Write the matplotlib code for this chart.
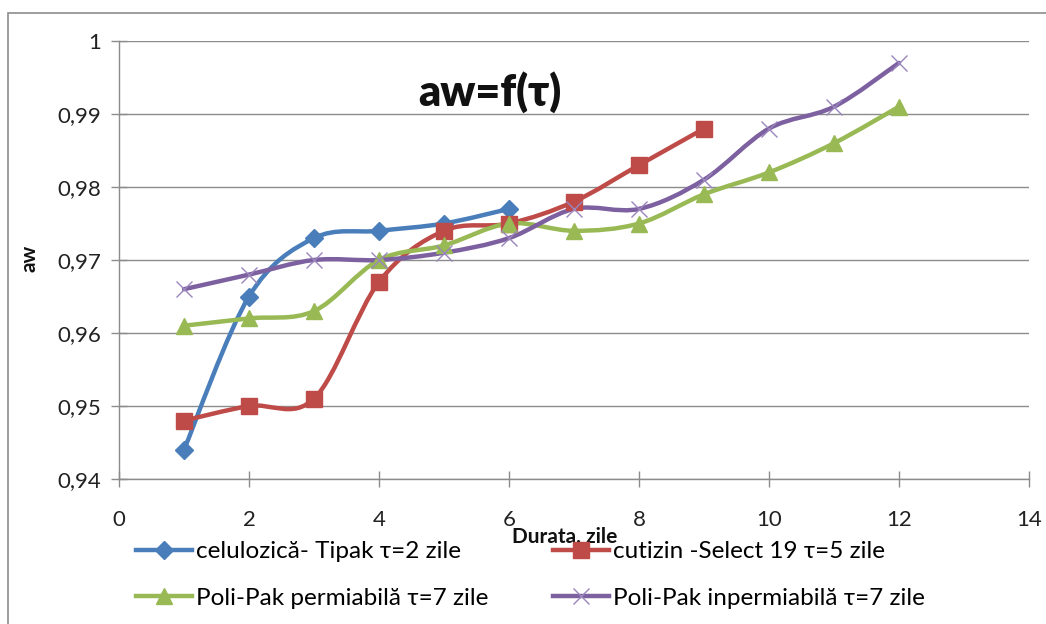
import matplotlib
matplotlib.use("Agg")
import matplotlib.pyplot as plt
from matplotlib.path import Path
from matplotlib.patches import PathPatch, Rectangle
from matplotlib.lines import Line2D
import numpy as np

plt.rcParams['font.family'] = ['Lato', 'DejaVu Sans']

# ---- data ----
days_blue = [1, 2, 3, 4, 5, 6]
aw_blue = [0.944, 0.965, 0.973, 0.974, 0.975, 0.977]
days_red = [1, 2, 3, 4, 5, 6, 7, 8, 9]
aw_red = [0.948, 0.950, 0.951, 0.967, 0.974, 0.975, 0.978, 0.983, 0.988]
days_green = [1, 2, 3, 4, 5, 6, 7, 8, 9, 10, 11, 12]
aw_green = [0.961, 0.962, 0.963, 0.970, 0.972, 0.975, 0.974, 0.975, 0.979, 0.982, 0.986, 0.991]
days_purple = [1, 2, 3, 4, 5, 6, 7, 8, 9, 10, 11, 12]
aw_purple = [0.966, 0.968, 0.970, 0.970, 0.971, 0.973, 0.977, 0.977, 0.981, 0.988, 0.991, 0.997]

labels = ["celulozică- Tipak τ=2 zile", "cutizin -Select 19 τ=5 zile",
          "Poli-Pak permiabilă τ=7 zile", "Poli-Pak inpermiabilă τ=7 zile"]
xticks = [0, 2, 4, 6, 8, 10, 12, 14]
yticks = [0.94, 0.95, 0.96, 0.97, 0.98, 0.99, 1.0]
ytick_labels = ["0,94", "0,95", "0,96", "0,97", "0,98", "0,99", "1"]

colors = ["#4A7EBB", "#BE4B48", "#98B954", "#7D60A0"]
markers = ["D", "s", "^", "x"]
msizes = [9.5, 12, 12, 12]
XCOL = '#9A86BC'

fig = plt.figure(figsize=(10.46, 6.24), dpi=100)
W, H = 1046, 624
ax = fig.add_axes([119 / W, 1 - 479 / H, (1029 - 119) / W, (479 - 41) / H])

def smooth_path(xs, ys):
    xs = np.asarray(xs, float); ys = np.asarray(ys, float)
    n = len(xs)
    verts = [(xs[0], ys[0])]
    codes = [Path.MOVETO]
    for i in range(n - 1):
        p0 = (xs[max(i - 1, 0)], ys[max(i - 1, 0)])
        p1 = (xs[i], ys[i])
        p2 = (xs[i + 1], ys[i + 1])
        p3 = (xs[min(i + 2, n - 1)], ys[min(i + 2, n - 1)])
        c1 = (p1[0] + (p2[0] - p0[0]) / 6, p1[1] + (p2[1] - p0[1]) / 6)
        c2 = (p2[0] - (p3[0] - p1[0]) / 6, p2[1] - (p3[1] - p1[1]) / 6)
        verts += [c1, c2, p2]
        codes += [Path.CURVE4] * 3
    return Path(verts, codes)

series = [(days_blue, aw_blue), (days_red, aw_red), (days_green, aw_green), (days_purple, aw_purple)]
handles = []
for k, (xs, ys) in enumerate(series):
    patch = PathPatch(smooth_path(xs, ys), facecolor='none', edgecolor=colors[k],
                      lw=3.2, zorder=3 + k * 0.1, capstyle='round', joinstyle='round')
    ax.add_patch(patch)
    if markers[k] == 'x':
        ax.plot(xs, ys, ls='none', marker='x', ms=msizes[k], mew=1.0,
                color=XCOL, zorder=4 + k * 0.1)
    else:
        ax.plot(xs, ys, ls='none', marker=markers[k], ms=msizes[k],
                color=colors[k], mec=colors[k], zorder=4 + k * 0.1)
    handles.append(Line2D([0], [0], color=colors[k], lw=3.2, marker=markers[k],
                          ms=msizes[k], mew=1.0,
                          mec=XCOL if markers[k] == 'x' else colors[k]))

ax.set_xlim(0, 14)
ax.set_ylim(0.94, 1.0)
ax.set_xticks(xticks)
ax.set_xticklabels([str(v) for v in xticks])
ax.set_yticks(yticks)
ax.set_yticklabels(ytick_labels)
ax.yaxis.grid(True, color='#8C8C8C', lw=1.0)
ax.set_axisbelow(True)
for s in ['top', 'right']:
    ax.spines[s].set_visible(False)
for s in ['left', 'bottom']:
    ax.spines[s].set_color('#8C8C8C')
    ax.spines[s].set_linewidth(1.0)
ax.tick_params(axis='both', direction='inout', length=12, width=1.0, color='#8C8C8C',
               labelsize=16, labelcolor='#222222')
ax.tick_params(axis='y', pad=7)
ax.tick_params(axis='x', pad=16)

fig.text(490 / W, 1 - 92 / H, "aw=f(τ)", fontsize=31, fontweight='heavy',
         ha='center', va='center', color='#111111')
fig.text(565 / W, 1 - 537 / H, "Durata, zile", fontsize=15, fontweight='bold',
         ha='center', va='center', color='#111111')
fig.text(30 / W, 1 - 258 / H, "aw", fontsize=15, fontweight='bold', rotation=90,
         ha='center', va='center', color='#111111')

leg_kw = dict(loc='center left', frameon=False, fontsize=17.5, handlelength=2.3,
              handletextpad=0.15, labelspacing=1.05, borderpad=0.0, borderaxespad=0.0)
leg1 = fig.legend([handles[0], handles[2]], [labels[0], labels[2]],
                  bbox_to_anchor=(136 / W, 1 - 575 / H), **leg_kw)
leg2 = fig.legend([handles[1], handles[3]], [labels[1], labels[3]],
                  bbox_to_anchor=(553 / W, 1 - 575 / H), **leg_kw)

# outer chart border (left / top visible)
fig.add_artist(Rectangle((8 / W, -0.1), 1.2, 1 - 13 / H + 0.1, transform=fig.transFigure,
                         fill=False, edgecolor='#8C8C8C', lw=1.2))

fig.savefig("out.png", dpi=100)
